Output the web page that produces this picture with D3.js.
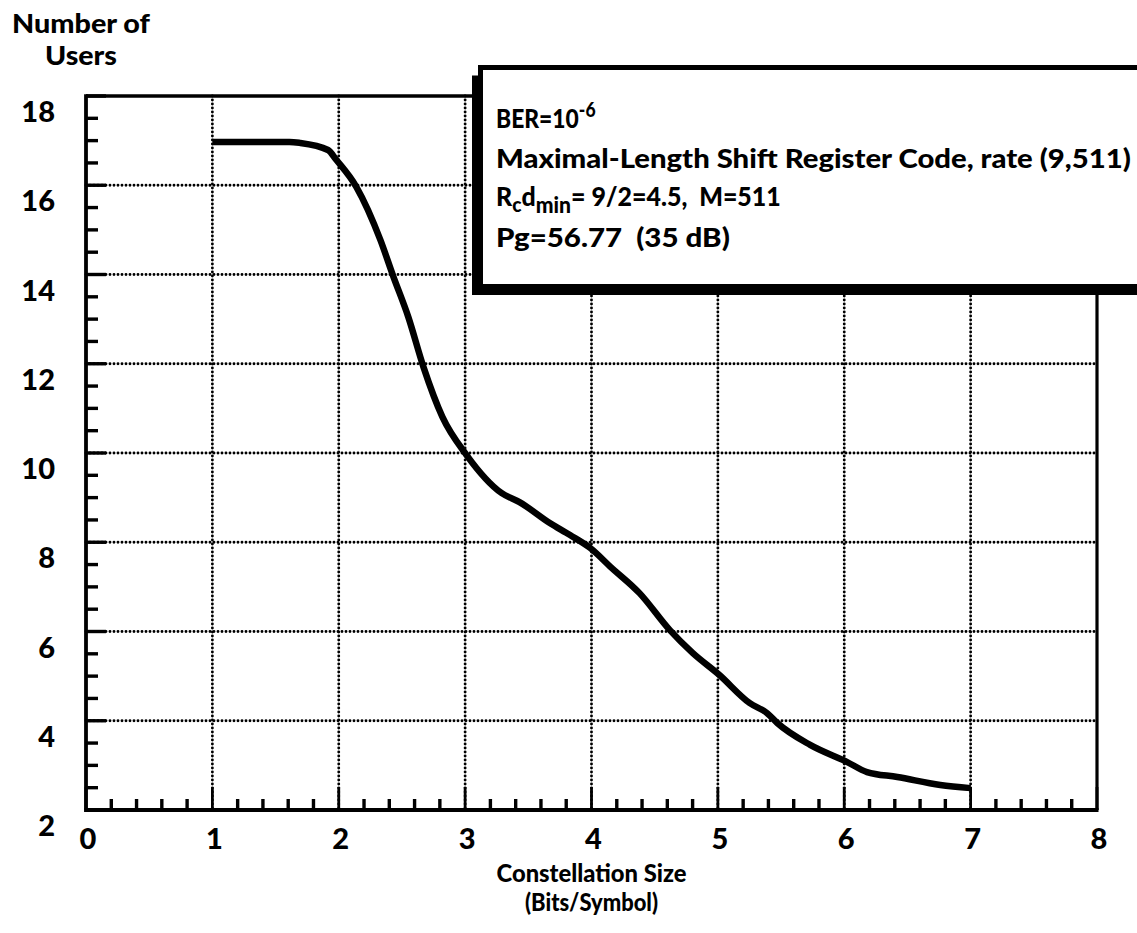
<!DOCTYPE html>
<html>
<head>
<meta charset="utf-8">
<script src="https://cdn.jsdelivr.net/npm/d3@7/dist/d3.min.js"></script>
<style>
  html, body { margin: 0; padding: 0; background: #fff; }
  svg { display: block; }
  text { font-family: Lato, "Open Sans", sans-serif; font-weight: 900; fill: #000; }
</style>
</head>
<body>
<svg id="chart" width="1137" height="933"></svg>
<script>
// Number of users vs. constellation size (BER = 1e-6)
const bitsPerSymbol = [1.0, 1.3, 1.61, 1.69, 1.915, 1.98, 2.14, 2.33, 2.43, 2.55, 2.67, 2.82, 3.01,
  3.29, 3.43, 3.67, 3.83, 3.99, 4.15, 4.38, 4.62, 4.80, 5.01, 5.25, 5.39, 5.47, 5.73,
  6.02, 6.18, 6.42, 6.76, 7.0];
const numberOfUsers = [16.97, 16.97, 16.97, 16.95, 16.79, 16.57, 15.96, 14.77, 13.97, 13.05, 11.93, 10.81, 9.96,
  9.10, 8.90, 8.43, 8.16, 7.87, 7.45, 6.86, 6.03, 5.52, 5.03, 4.40, 4.17, 3.95, 3.46,
  3.08, 2.85, 2.74, 2.56, 2.49];

const xTickValues = [0, 1, 2, 3, 4, 5, 6, 7, 8];
const yTickValues = [2, 4, 6, 8, 10, 12, 14, 16, 18];
const xGridValues = [1, 2, 3, 4, 5, 6, 7];
const yGridValues = [4, 6, 8, 10, 12, 14, 16];

const yTitleLines = ["Number of", "Users"];
const xTitleLines = ["Constellation Size", "(Bits/Symbol)"];

const svg = d3.select("#chart");

const x = d3.scaleLinear().domain([0, 8]).range([86, 1097]);
const y = d3.scaleLinear().domain([2, 18]).range([810, 96]);

// horizontal stretch of a text about its left edge, to a given width
function fitWidth(sel, left, width) {
  const k = width / sel.node().getBBox().width;
  sel.attr("transform", `translate(${left},0) scale(${k},1) translate(${-left},0)`);
}

// dotted grid
const dotted = { width: 2.9, dash: "0 4" };
svg.append("g").selectAll("line").data(yGridValues).join("line")
  .attr("x1", x(0)).attr("x2", x(8))
  .attr("y1", d => y(d)).attr("y2", d => y(d))
  .attr("stroke", "#000").attr("stroke-width", dotted.width)
  .attr("stroke-dasharray", dotted.dash).attr("stroke-linecap", "round");
svg.append("g").selectAll("line").data(xGridValues).join("line")
  .attr("x1", d => x(d)).attr("x2", d => x(d))
  .attr("y1", y(18)).attr("y2", y(2))
  .attr("stroke", "#000").attr("stroke-width", dotted.width)
  .attr("stroke-dasharray", dotted.dash).attr("stroke-linecap", "round");

// minor / major ticks on the left and bottom axes
const yMinor = d3.range(2, 18.01, 0.5);
svg.append("g").selectAll("line").data(yMinor).join("line")
  .attr("x1", x(0)).attr("x2", d => x(0) + (d % 2 === 0 ? 20 : 12))
  .attr("y1", d => y(d)).attr("y2", d => y(d))
  .attr("stroke", "#000").attr("stroke-width", 3.4);
const xMinor = d3.range(0, 8.001, 0.2).map(v => Math.round(v * 10) / 10);
svg.append("g").selectAll("line").data(xMinor).join("line")
  .attr("x1", d => x(d)).attr("x2", d => x(d))
  .attr("y1", y(2)).attr("y2", d => y(2) - (Number.isInteger(d) ? 23 : 11))
  .attr("stroke", "#000").attr("stroke-width", d => Number.isInteger(d) ? 2.8 : 3.4);

// plot frame
const frame = svg.append("g").attr("stroke", "#000").attr("fill", "none");
frame.append("line").attr("x1", x(0)).attr("x2", x(8)).attr("y1", y(18)).attr("y2", y(18)).attr("stroke-width", 3.6);
frame.append("line").attr("x1", x(8)).attr("x2", x(8)).attr("y1", y(18)).attr("y2", y(2)).attr("stroke-width", 3.2);
frame.append("line").attr("x1", x(0)).attr("x2", x(0)).attr("y1", y(18) - 1.8).attr("y2", y(2) + 2).attr("stroke-width", 3.8);
frame.append("line").attr("x1", x(0) - 1.5).attr("x2", x(8) + 1.5).attr("y1", y(2)).attr("y2", y(2)).attr("stroke-width", 4);

// tick labels
svg.append("g").selectAll("text").data(yTickValues).join("text")
  .attr("x", 55).attr("y", d => y(d) + 26)
  .attr("text-anchor", "end").attr("font-size", 29)
  .text(d => d);
svg.append("g").selectAll("text").data(xTickValues).join("text")
  .attr("x", d => x(d) + 2).attr("y", 849)
  .attr("text-anchor", "middle").attr("font-size", 29)
  .text(d => d);

// axis titles
const yTitleWidths = [138, 72];
svg.append("g").selectAll("text").data(yTitleLines).join("text")
  .attr("x", 81).attr("y", (d, i) => 33 + i * 32)
  .attr("text-anchor", "middle").attr("font-size", 27)
  .attr("textLength", (d, i) => yTitleWidths[i]).attr("lengthAdjust", "spacingAndGlyphs")
  .text(d => d);
const xTitleWidths = [190, 133];
svg.append("g").selectAll("text").data(xTitleLines).join("text")
  .attr("x", x(4)).attr("y", (d, i) => 882 + i * 29)
  .attr("text-anchor", "middle").attr("font-size", 24)
  .attr("textLength", (d, i) => xTitleWidths[i]).attr("lengthAdjust", "spacingAndGlyphs")
  .text(d => d);

// the curve
const line = d3.line().x((d, i) => x(bitsPerSymbol[i])).y(d => y(d)).curve(d3.curveMonotoneX);
svg.append("path").datum(numberOfUsers)
  .attr("d", line)
  .attr("fill", "none").attr("stroke", "#000")
  .attr("stroke-width", 6.5).attr("stroke-linejoin", "round");

// annotation box with offset shadow
const box = { x: 480.5, y: 67.5, w: 700, h: 219 };
svg.append("rect").attr("x", box.x - 8.5).attr("y", box.y + 8).attr("width", box.w).attr("height", box.h + 0.5).attr("fill", "#000");
svg.append("rect").attr("x", box.x).attr("y", box.y).attr("width", box.w).attr("height", box.h)
  .attr("fill", "#fff").attr("stroke", "#000").attr("stroke-width", 5);

const tx = 496, fs = 26, sub = 20;
const t1 = svg.append("text").attr("x", tx).attr("y", 128).attr("font-size", fs);
t1.append("tspan").text("BER=10");
t1.append("tspan").attr("dy", -11).attr("font-size", sub).text("-6");
fitWidth(t1, tx, 100);

const t2 = svg.append("text").attr("x", tx).attr("y", 168).attr("font-size", fs)
  .text("Maximal-Length Shift Register Code, rate (9,511)");
fitWidth(t2, tx, 635);

const t3 = svg.append("text").attr("x", tx).attr("y", 206).attr("font-size", fs);
t3.append("tspan").text("R");
t3.append("tspan").attr("dy", 6).attr("font-size", sub).text("c");
t3.append("tspan").attr("dy", -6).text("d");
t3.append("tspan").attr("dy", 7).attr("font-size", sub + 2).text("min");
t3.append("tspan").attr("dy", -7).text("= 9/2=4.5,\u00a0\u00a0M=511");
fitWidth(t3, tx, 285);

const t4 = svg.append("text").attr("x", tx).attr("y", 247).attr("font-size", fs)
  .text("Pg=56.77\u00a0\u00a0(35 dB)");
fitWidth(t4, tx, 234);
</script>
</body>
</html>
